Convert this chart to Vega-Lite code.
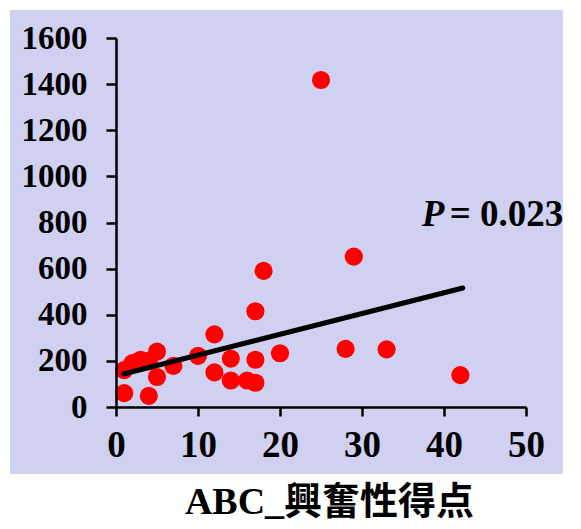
{
  "$schema": "https://vega.github.io/schema/vega-lite/v6.json",
  "width": 410,
  "height": 369,
  "autosize": {"type": "none"},
  "padding": {"left": 116, "top": 38, "right": 55, "bottom": 122},
  "background": "white",
  "config": {"view": {"stroke": null}, "font": "Liberation Serif"},
  "datasets": {
    "points": [
      {"score": 1, "value": 60}, {"score": 4, "value": 48}, {"score": 1, "value": 160},
      {"score": 2, "value": 190}, {"score": 3, "value": 205}, {"score": 4, "value": 200},
      {"score": 5, "value": 240}, {"score": 5, "value": 130}, {"score": 7, "value": 178},
      {"score": 10, "value": 222}, {"score": 12, "value": 315}, {"score": 12, "value": 150},
      {"score": 14, "value": 210}, {"score": 14, "value": 115}, {"score": 16, "value": 115},
      {"score": 17, "value": 105}, {"score": 17, "value": 205}, {"score": 17, "value": 415},
      {"score": 18, "value": 590}, {"score": 20, "value": 233}, {"score": 25, "value": 1418},
      {"score": 28, "value": 252}, {"score": 29, "value": 652}, {"score": 33, "value": 250},
      {"score": 42, "value": 138}
    ],
    "fit": [{"score": 0.9, "value": 143}, {"score": 42.3, "value": 516}]
  },
  "layer": [
    {
      "data": {"values": [{}]},
      "mark": {"type": "rect", "color": "#d0d0f0", "clip": false},
      "encoding": {
        "x": {"datum": -12.93, "type": "quantitative", "scale": {"domain": [0, 50], "nice": false},
          "axis": {
            "zindex": 1,
            "values": [0, 10, 20, 30, 40, 50], "grid": false, "format": "d",
            "domainColor": "black", "domainWidth": 2.5, "tickColor": "black", "tickWidth": 2.5, "tickSize": 9,
            "labelFont": "Liberation Serif", "labelFontWeight": "bold", "labelFontSize": 37, "labelColor": "black",
            "labelPadding": 11, "labelFlush": false, "labelOverlap": false, "labelBound": false,
            "title": "ABC_興奮性得点", "titleFont": "Liberation Serif, Noto Sans CJK JP", "titleFontSize": 38,
            "titleFontWeight": "bold", "titleColor": "black", "titleX": 213, "titleY": 106,
            "titleBaseline": "alphabetic", "titleAlign": "center"
          }},
        "x2": {"datum": 54.5},
        "y": {"datum": -290, "type": "quantitative", "scale": {"domain": [0, 1600], "nice": false},
          "axis": {
            "zindex": 1,
            "values": [0, 200, 400, 600, 800, 1000, 1200, 1400, 1600], "grid": false, "format": "d",
            "domainColor": "black", "domainWidth": 2.5, "tickColor": "black", "tickWidth": 2.5, "tickSize": 10,
            "labelFont": "Liberation Serif", "labelFontWeight": "bold", "labelFontSize": 33, "labelColor": "black",
            "labelPadding": 19, "labelFlush": false, "labelOverlap": false, "labelBound": false,
            "title": null
          }},
        "y2": {"datum": 1721}
      }
    },
    {
      "data": {"name": "points"},
      "mark": {"type": "point", "filled": true, "shape": "circle", "color": "#ff0000", "opacity": 1, "size": 330, "clip": false},
      "encoding": {
        "x": {"field": "score", "type": "quantitative"},
        "y": {"field": "value", "type": "quantitative"}
      }
    },
    {
      "data": {"name": "fit"},
      "mark": {"type": "line", "color": "black", "strokeWidth": 5, "strokeCap": "round"},
      "encoding": {
        "x": {"field": "score", "type": "quantitative"},
        "y": {"field": "value", "type": "quantitative"}
      }
    },
    {
      "data": {"values": [{}]},
      "mark": {"type": "text", "text": "P", "font": "Liberation Serif", "fontSize": 37, "fontWeight": "bold", "fontStyle": "italic", "color": "black", "align": "left", "baseline": "alphabetic"},
      "encoding": {
        "x": {"datum": 37.3, "type": "quantitative"},
        "y": {"datum": 785, "type": "quantitative"}
      }
    },
    {
      "data": {"values": [{}]},
      "mark": {"type": "text", "text": "= 0.023", "font": "Liberation Serif", "fontSize": 37, "fontWeight": "bold", "color": "black", "align": "left", "baseline": "alphabetic"},
      "encoding": {
        "x": {"datum": 40.7, "type": "quantitative"},
        "y": {"datum": 785, "type": "quantitative"}
      }
    }
  ]
}
